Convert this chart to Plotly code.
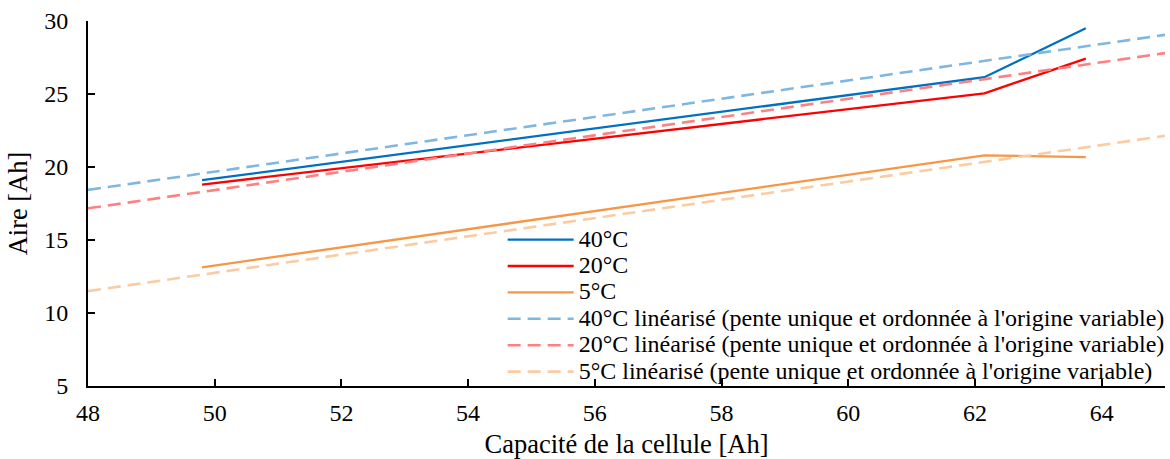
import plotly.graph_objects as go

# Measured data
x_meas = [49.8, 62.15, 63.75]
aire_40 = [19.1, 26.15, 29.5]
aire_20 = [18.8, 25.05, 27.42]
aire_5 = [13.13, 20.8, 20.68]

# Linearised (single slope, variable intercept)
x_lin = [48, 65]
lin_40 = [18.43, 29.05]
lin_20 = [17.17, 27.8]
lin_5 = [11.5, 22.13]

names = ["40°C", "20°C", "5°C"]
lin_suffix = " linéarisé (pente unique et ordonnée à l'origine variable)"

fig = go.Figure()
solid_colors = ["#0070C0", "#FF0000", "#F79646"]
dash_colors = ["#7FB7E0", "#FF8080", "#FBCBA2"]

def big(t):
    return '<span style="font-size:24px">' + t + '</span>'

for name, ys, c in zip(names, [aire_40, aire_20, aire_5], solid_colors):
    fig.add_trace(go.Scatter(x=x_meas, y=ys, mode="lines", name=big(name),
                             line=dict(color=c, width=2.3)))
for name, ys, c in zip(names, [lin_40, lin_20, lin_5], dash_colors):
    fig.add_trace(go.Scatter(x=x_lin, y=ys, mode="lines", name=big(name + lin_suffix),
                             line=dict(color=c, width=2.6, dash="13px,7px")))

font = "Liberation Serif"
fig.update_layout(
    width=1170, height=459,
    margin=dict(l=88, r=5, t=21, b=73, autoexpand=False),
    paper_bgcolor="white", plot_bgcolor="white",
    font=dict(family=font, size=24, color="#000"),
    showlegend=True,
    legend=dict(x=0.385, y=-0.012, xanchor="left", yanchor="bottom",
                bgcolor="rgba(0,0,0,0)", font=dict(size=18, family=font),
                tracegroupgap=0, itemwidth=66),
    xaxis=dict(range=[48, 65], tick0=48, dtick=2, showgrid=False, zeroline=False,
               showline=True, linecolor="#000", linewidth=2, automargin=False,
               ticks="inside", ticklen=7, tickwidth=1.5, tickcolor="#000",
               tickfont=dict(family=font, size=24), ticklabelstandoff=4,
               title=dict(text="Capacité de la cellule [Ah]", font=dict(family=font, size=26.5), standoff=10)),
    yaxis=dict(range=[5, 30], dtick=5, showgrid=False, zeroline=False,
               showline=True, linecolor="#000", linewidth=2, automargin=False,
               ticks="inside", ticklen=7, tickwidth=1.5, tickcolor="#000",
               tickfont=dict(family=font, size=24), ticklabelstandoff=13,
               title=dict(text="Aire [Ah]", font=dict(family=font, size=26.5), standoff=9)),
)

fig.write_html("out.html", config={"displayModeBar": False},
               post_script="document.body.style.margin='0';")
